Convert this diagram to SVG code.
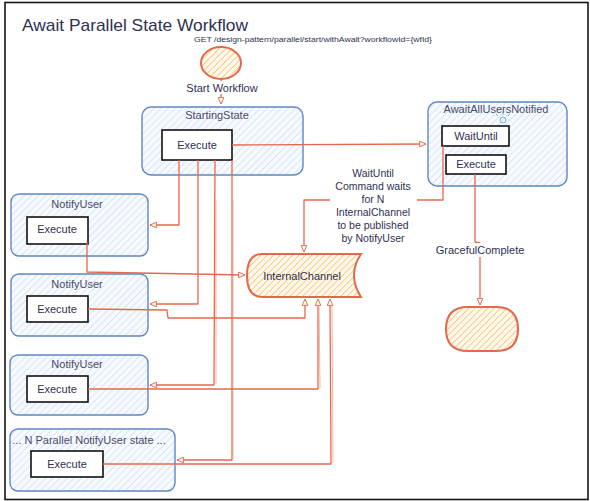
<svg xmlns="http://www.w3.org/2000/svg" width="590" height="501" viewBox="0 0 590 501">
<style>
  .t { font-family: "Liberation Sans", "DejaVu Sans", sans-serif; fill: #2e3150; }
  .lbl { font-size: 11px; text-anchor: middle; }
  .sl { fill: #474b68; }
  .state { stroke: #5f86c2; stroke-width: 1.4; fill: url(#hb); }
  .exec { fill: #ffffff; stroke: #111111; stroke-width: 1.6; }
  .conn { fill: none; stroke: #e4694c; stroke-width: 1.3; stroke-linejoin: round; }
  .conn2 { fill: none; stroke: #f0a48f; stroke-width: 1; opacity: 0.8; }
  .term { stroke: #e4694c; stroke-width: 2; fill: url(#ho); }
</style>
<defs>
  <pattern id="hb" width="5" height="5" patternUnits="userSpaceOnUse" patternTransform="rotate(45)">
    <rect width="5" height="5" fill="#f7faff"/>
    <line x1="0" y1="0" x2="0" y2="5" stroke="#b9cff0" stroke-width="1"/>
  </pattern>
  <pattern id="ho" width="4.5" height="4.5" patternUnits="userSpaceOnUse" patternTransform="rotate(45)">
    <rect width="4.5" height="4.5" fill="#fff8ec"/>
    <line x1="0" y1="0" x2="0" y2="4.5" stroke="#f3b95f" stroke-width="1.4"/>
  </pattern>
  <marker id="ah" viewBox="0 0 10 10" refX="9" refY="5" markerWidth="8" markerHeight="8" markerUnits="userSpaceOnUse" orient="auto">
    <path d="M1,1.5 L9,5 L1,8.5 Z" fill="#ffffff" stroke="#e4694c" stroke-width="1.2"/>
  </marker>
</defs>

<rect x="0" y="0" width="590" height="501" fill="#ffffff"/>
<rect id="frame" x="5" y="2.5" width="583" height="497" fill="none" stroke="#151515" stroke-width="1.6"/>

<text id="title" class="t" x="22" y="31" font-size="17" fill="#2b2d4a" textLength="226" lengthAdjust="spacingAndGlyphs">Await Parallel State Workflow</text>

<g id="start">
  <ellipse cx="221" cy="63" rx="20" ry="16" class="term"/>
  <text class="t" x="313" y="42" font-size="7.5" text-anchor="middle" textLength="238" lengthAdjust="spacingAndGlyphs">GET /design-pattern/parallel/start/withAwait?workflowId={wfId}</text>
</g>

<g id="StartingState">
  <rect x="142" y="107" width="161" height="68" rx="9" class="state"/>
  <text class="t lbl sl" x="217" y="119">StartingState</text>
  <rect x="162" y="130" width="70" height="30" class="exec"/>
  <text class="t lbl" x="197" y="149">Execute</text>
</g>

<g id="AwaitAllUsersNotified">
  <rect x="428" y="102" width="139" height="84" rx="9" class="state"/>
  <text class="t lbl sl" x="496" y="113">AwaitAllUsersNotified</text>
  <rect x="442" y="126" width="67" height="20" class="exec"/>
  <text class="t lbl" x="476" y="140">WaitUntil</text>
  <rect x="446" y="155" width="60" height="19" class="exec"/>
  <text class="t lbl" x="476" y="168">Execute</text>
  <g stroke="#6fa3d8" stroke-width="0.9" fill="none">
    <circle cx="503" cy="120" r="3"/>
    <line x1="498" y1="116" x2="496" y2="114"/>
    <line x1="508" y1="116" x2="510" y2="114"/>
    <line x1="503" y1="115" x2="503" y2="112"/>
  </g>
</g>

<g id="NotifyUser1">
  <rect x="11" y="194" width="137" height="62" rx="8" class="state"/>
  <text class="t lbl sl" x="77" y="208">NotifyUser</text>
  <rect x="27" y="217" width="61" height="27" class="exec"/>
  <text class="t lbl" x="57" y="233">Execute</text>
</g>

<g id="NotifyUser2">
  <rect x="11" y="274" width="137" height="62" rx="8" class="state"/>
  <text class="t lbl sl" x="77" y="288">NotifyUser</text>
  <rect x="27" y="296" width="61" height="26" class="exec"/>
  <text class="t lbl" x="57" y="313">Execute</text>
</g>

<g id="NotifyUser3">
  <rect x="10" y="355" width="138" height="60" rx="8" class="state"/>
  <text class="t lbl sl" x="77" y="368">NotifyUser</text>
  <rect x="27" y="376" width="61" height="26" class="exec"/>
  <text class="t lbl" x="57" y="393">Execute</text>
</g>

<g id="NotifyUserN">
  <rect x="10" y="429" width="165" height="62" rx="8" class="state"/>
  <text class="t lbl sl" x="89" y="444">... N Parallel NotifyUser state ...</text>
  <rect x="31" y="451" width="72" height="26" class="exec"/>
  <text class="t lbl" x="67" y="468">Execute</text>
</g>

<g id="InternalChannel">
  <path d="M262,254 L361,254 Q347,275 361,297 L262,297 Q247,297 247,275.5 Q247,254 262,254 Z" class="term" stroke-width="2.2"/>
  <text class="t lbl" x="302" y="280">InternalChannel</text>
</g>

<g id="end">
  <path d="M468,307 L496,307 Q518,307 518,329 Q518,351 496,351 L468,351 Q446,351 446,329 Q446,307 468,307 Z" class="term"/>
</g>

<g id="connectors">
  <path class="conn" d="M221,79 L221,104" marker-end="url(#ah)"/>
  <rect x="178" y="81" width="88" height="13" fill="#ffffff"/>
  <text class="t lbl" x="222" y="92">Start Workflow</text>

  <path class="conn" d="M232,145 L426,144" marker-end="url(#ah)"/>

  <path class="conn" d="M179,160 L179,225 L150,225" marker-end="url(#ah)"/>
  <path class="conn" d="M198,160 L198,304 L150,304" marker-end="url(#ah)"/>
  <path class="conn" d="M215,160 L214,385 L150,385" marker-end="url(#ah)"/>
  <path class="conn" d="M232,160 L232,460 L177,460" marker-end="url(#ah)"/>
  <path class="conn2" d="M216,200 L216,384"/>
  <path class="conn2" d="M233,200 L233,459"/>

  <path class="conn" d="M87,242 L87,272 L245,275" marker-end="url(#ah)"/>
  <path class="conn" d="M88,309 L167,310 L168,318 L305,318 L305,299" marker-end="url(#ah)"/>
  <path class="conn" d="M88,389 L318,389 L318,299" marker-end="url(#ah)"/>
  <path class="conn" d="M103,464 L331,464 L330,299" marker-end="url(#ah)"/>
  <path class="conn2" d="M320,388 L319,305"/>
  <path class="conn2" d="M333,463 L332,305"/>

  <path class="conn" d="M443,146 L443,200 L304,200 L304,252" marker-end="url(#ah)"/>
  <rect x="330" y="164" width="87" height="80" fill="#ffffff"/>
  <g class="t" font-size="10.5" text-anchor="middle">
    <text x="373" y="177">WaitUntil</text>
    <text x="373" y="190">Command waits</text>
    <text x="373" y="203">for N</text>
    <text x="373" y="216">InternalChannel</text>
    <text x="373" y="229">to be published</text>
    <text x="373" y="242">by NotifyUser</text>
  </g>

  <path class="conn" d="M475,174 L475,242 L480,243 L480,305" marker-end="url(#ah)"/>
  <rect x="432" y="243" width="96" height="14" fill="#ffffff"/>
  <text class="t lbl" x="480" y="254">GracefulComplete</text>
</g>
</svg>
